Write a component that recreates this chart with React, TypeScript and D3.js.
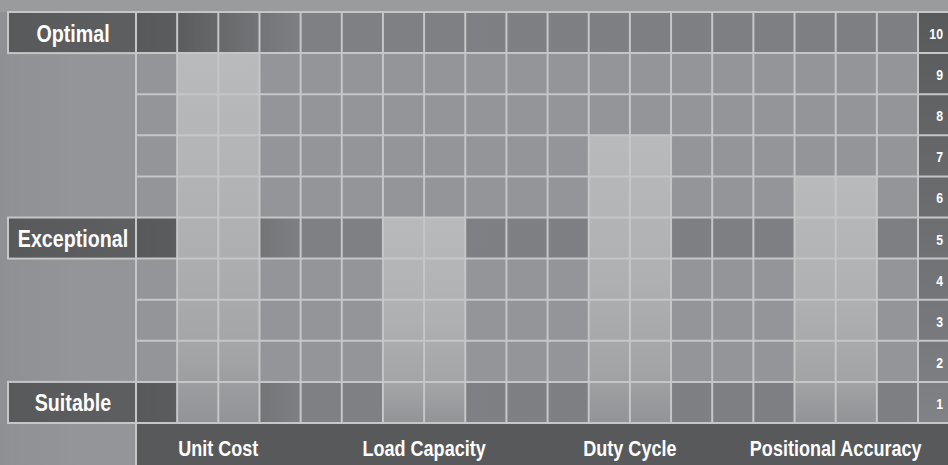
import React from 'react';
import * as d3 from 'd3';

// chart data
const categories = ["Unit Cost", "Load Capacity", "Duty Cycle", "Positional Accuracy"];
const scores = [9, 5, 7, 6];
const scoreTicks = [1, 2, 3, 4, 5, 6, 7, 8, 9, 10];
const levelNames = ["Suitable", "Exceptional", "Optimal"];
const levelScores = [1, 5, 10];

const WIDTH = 948;
const HEIGHT = 465;
const COLS_PER_GROUP = 5;
const FONT = "'Liberation Sans', Arial, sans-serif";
const NARROW = 0.82; // condensed look

const Label: React.FC<{ x: number; y: number; size: number; anchor: string; children: React.ReactNode }> =
  ({ x, y, size, anchor, children }) => (
    <text transform={`translate(${x},${y}) scale(${NARROW},1)`} textAnchor={anchor} fill="#ffffff"
      fontFamily={FONT} fontWeight="bold" fontSize={size}>
      {children}
    </text>
  );

const App: React.FC = () => {
  const gridLeft = 136;
  const gridRight = 918;
  const labelLeft = 8;
  const colW = (gridRight - gridLeft) / 19;
  const totalCols = categories.length * COLS_PER_GROUP;

  const x = d3.scaleLinear().domain([0, totalCols]).range([gridLeft, gridLeft + colW * totalCols]);
  const group = d3.scaleBand<string>().domain(categories).range([x(0), x(totalCols)]);
  const y = d3.scaleLinear().domain([0, 10]).range([423, 12]);
  const rowH = y(0) - y(1);

  const gridColor = "#c5c6c8";
  const dark = "#58595b";

  const barX = (c: string) => (group(c) as number) + colW;

  return (
    <svg width={WIDTH} height={HEIGHT} style={{ position: 'absolute', left: 0, top: 0 }}>
      <defs>
        <linearGradient id="bg" x1="0" y1="0" x2="1" y2="0">
          <stop offset="0" stopColor="#8f9093" />
          <stop offset="0.08" stopColor="#949598" />
          <stop offset="1" stopColor="#949598" />
        </linearGradient>
        <linearGradient id="band" gradientUnits="userSpaceOnUse" x1={gridLeft} y1="0" x2={gridRight} y2="0">
          <stop offset="0" stopColor="#58595b" />
          <stop offset={(x(1) - gridLeft) / (gridRight - gridLeft)} stopColor="#5b5c5e" />
          <stop offset={(x(4) - gridLeft) / (gridRight - gridLeft)} stopColor="#7f8083" />
          <stop offset="1" stopColor="#7e7f82" />
        </linearGradient>
        <linearGradient id="bar" x1="0" y1="0" x2="0" y2="1">
          <stop offset="0" stopColor="#b9babc" />
          <stop offset="0.5" stopColor="#afb0b2" />
          <stop offset="0.82" stopColor="#a3a4a6" />
          <stop offset="1" stopColor="#929396" />
        </linearGradient>
        <linearGradient id="labelBox" x1="0" y1="0" x2="1" y2="0">
          <stop offset="0" stopColor="#58595b" />
          <stop offset="1" stopColor="#5e5f61" />
        </linearGradient>
        <linearGradient id="rightCol" gradientUnits="userSpaceOnUse" x1="0" y1={y(10)} x2="0" y2={y(0)}>
          <stop offset="0" stopColor="#58595b" />
          <stop offset="1" stopColor="#818285" />
        </linearGradient>
      </defs>

      {/* background */}
      <rect x={0} y={0} width={WIDTH} height={HEIGHT} fill="url(#bg)" />
      <rect x={0} y={0} width={WIDTH} height={y(10)} fill="#9a9b9d" />

      {/* highlighted level rows */}
      {levelScores.map(s => (
        <rect key={s} x={gridLeft} y={y(s)} width={gridRight - gridLeft} height={rowH} fill="url(#band)" />
      ))}

      {/* bars */}
      {categories.map((c, i) => (
        <rect key={c} x={barX(c)} y={y(scores[i])} width={colW * 2} height={y(0) - y(scores[i])} fill="url(#bar)" />
      ))}

      {/* right score column */}
      <rect x={gridRight} y={y(10)} width={WIDTH - gridRight} height={y(0) - y(10)} fill="url(#rightCol)" />

      {/* bottom category band */}
      <rect x={gridLeft} y={y(0)} width={WIDTH - gridLeft} height={HEIGHT - y(0)} fill={dark} />

      {/* grid lines */}
      {scoreTicks.concat([0]).map(k => (
        <line key={'h' + k} x1={gridLeft} x2={WIDTH} y1={y(k)} y2={y(k)} stroke={gridColor} strokeWidth={2} />
      ))}
      {d3.range(0, 20).map(k => (
        <line key={'v' + k} x1={x(k)} x2={x(k)} y1={y(10)} y2={k === 0 ? HEIGHT : y(0)} stroke={gridColor} strokeWidth={2} />
      ))}

      {/* level label boxes */}
      {levelNames.map((name, i) => (
        <g key={name}>
          <rect x={labelLeft} y={y(levelScores[i])} width={gridLeft - labelLeft} height={rowH}
            fill="url(#labelBox)" stroke={gridColor} strokeWidth={2} />
          <Label x={(labelLeft + gridLeft) / 2 + 1} y={y(levelScores[i]) + rowH / 2 + 9} size={24} anchor="middle">
            {name}
          </Label>
        </g>
      ))}

      {/* score numbers */}
      {scoreTicks.map(t => (
        <Label key={'t' + t} x={943} y={y(t) + rowH / 2 + 6.5} size={15} anchor="end">
          {t}
        </Label>
      ))}

      {/* category labels */}
      {categories.map(c => (
        <Label key={'c' + c} x={barX(c) + colW} y={456} size={22} anchor="middle">
          {c}
        </Label>
      ))}
    </svg>
  );
};

export default App;
